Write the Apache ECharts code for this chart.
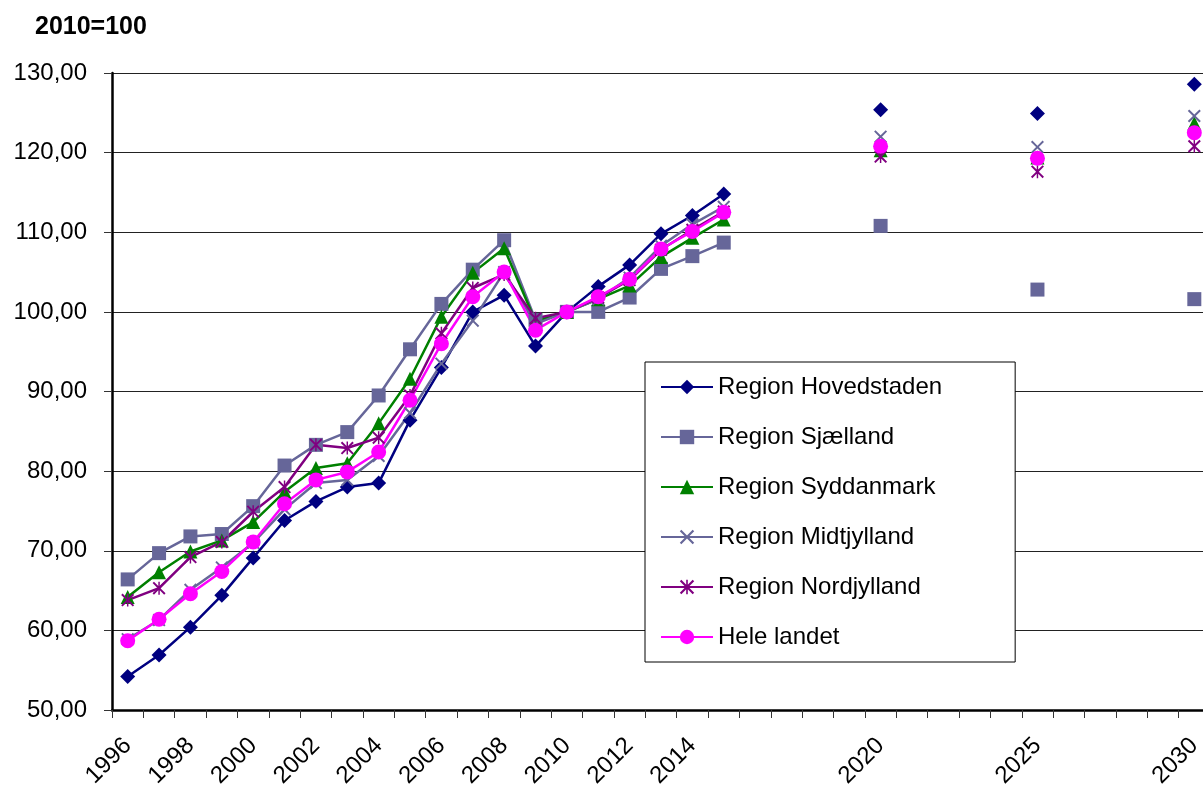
<!DOCTYPE html>
<html>
<head>
<meta charset="utf-8">
<script src="https://cdn.jsdelivr.net/npm/echarts@6/dist/echarts.min.js"></script>
<style>html,body{margin:0;padding:0;background:#fff}#c{width:1203px;height:785px}</style>
</head>
<body>
<div id="c"></div>
<script>
const years = ['1996','1997','1998','1999','2000','2001','2002','2003','2004','2005','2006','2007','2008','2009','2010','2011','2012','2013','2014','2015','2016','2017','2018','2019','2020','2021','2022','2023','2024','2025','2026','2027','2028','2029','2030'];
const labelYears = ['1996','1998','2000','2002','2004','2006','2008','2010','2012','2014','2020','2025','2030'];
const yTicks = { min: 50, max: 130, step: 10 };

const hovedstaden = [54.2,56.9,60.4,64.4,69.1,73.8,76.2,78.0,78.5,86.4,93.0,100.0,102.1,95.7,100.0,103.2,105.9,109.8,112.1,114.8, null,null,null,null,125.4, null,null,null,null,124.9, null,null,null,null,128.6];
const sjaelland   = [66.4,69.7,71.8,72.1,75.6,80.7,83.3,84.9,89.5,95.3,101.0,105.3,109.0,99.0,100.0,100.0,101.8,105.4,107.0,108.7, null,null,null,null,110.8, null,null,null,null,102.8, null,null,null,null,101.6];
const syddanmark  = [64.2,67.3,69.9,71.3,73.6,77.4,80.4,81.0,86.0,91.6,99.4,104.9,108.0,98.8,100.0,101.6,103.3,106.9,109.3,111.6, null,null,null,null,120.3, null,null,null,null,119.4, null,null,null,null,123.7];
const midtjylland = [58.9,61.3,65.1,67.9,71.0,75.2,78.5,78.9,81.9,87.3,93.5,98.9,105.0,98.5,100.0,101.6,104.3,108.3,111.0,113.2, null,null,null,null,122.0, null,null,null,null,120.7, null,null,null,null,124.6];
const nordjylland = [63.8,65.3,69.2,71.1,74.9,78.0,83.3,82.9,84.2,89.5,97.3,103.0,104.7,99.2,100.0,101.8,104.0,107.8,110.3,112.6, null,null,null,null,119.5, null,null,null,null,117.6, null,null,null,null,120.8];
const heleLandet  = [58.7,61.4,64.6,67.4,71.1,75.9,78.9,79.9,82.4,88.9,96.0,101.9,105.0,97.7,100.0,101.9,104.1,107.9,110.1,112.5, null,null,null,null,120.8, null,null,null,null,119.3, null,null,null,null,122.5];

const FONT = "'Liberation Sans', Arial, sans-serif";
const X_PATH = 'path://M0 1.7L1.7 0L8 6.3L14.3 0L16 1.7L9.7 8L16 14.3L14.3 16L8 9.7L1.7 16L0 14.3L6.3 8Z';
const STAR_PATH = 'path://M0 1.7L1.7 0L8 6.3L14.3 0L16 1.7L9.7 8L16 14.3L14.3 16L8 9.7L1.7 16L0 14.3L6.3 8Z M7.1 0L8.9 0L8.9 16L7.1 16Z';

function mk(name, data, color, symbol, size) {
  return {
    name, type: 'line', data, symbol, symbolSize: size,
    showSymbol: true, showAllSymbol: true, connectNulls: false,
    itemStyle: { color },
    lineStyle: { color, width: 2.5 },
    emphasis: { disabled: true },
    animation: false
  };
}

const chart = echarts.init(document.getElementById('c'));
chart.setOption({
  animation: false,
  backgroundColor: '#fff',
  title: {
    text: '2010=100', left: 30, top: 10,
    textStyle: { fontSize: 25, fontWeight: 'bold', fontFamily: FONT, color: '#000' }
  },
  grid: { left: 112, top: 73, right: -7, bottom: 75, outerBoundsMode: 'none', containLabel: false },
  legend: {
    orient: 'vertical', left: 645, top: 362,
    padding: [12, 73, 12, 15],
    itemGap: 24, itemWidth: 52, itemHeight: 18,
    borderColor: '#000', borderWidth: 1, backgroundColor: '#fff',
    textStyle: { fontSize: 24, fontFamily: FONT, color: '#000', lineHeight: 26 },
    data: ['Region Hovedstaden','Region Sjælland','Region Syddanmark','Region Midtjylland','Region Nordjylland','Hele landet']
  },
  xAxis: {
    type: 'category', data: years, boundaryGap: true,
    axisLine: { lineStyle: { color: '#000', width: 2.5 } },
    axisTick: { show: true, interval: 0, length: 8, lineStyle: { color: '#333', width: 1 } },
    axisLabel: {
      interval: (i, v) => labelYears.includes(v),
      rotate: 45, margin: 32,
      fontSize: 24, fontFamily: FONT, color: '#000'
    },
    splitLine: { show: false }
  },
  yAxis: {
    type: 'value', min: yTicks.min, max: yTicks.max, interval: yTicks.step,
    axisLine: { show: true, lineStyle: { color: '#000', width: 2.5 } },
    axisTick: { show: true, length: 8, lineStyle: { color: '#333', width: 1 } },
    axisLabel: {
      margin: 25, fontSize: 24, fontFamily: FONT, color: '#000',
      formatter: v => v.toFixed(2).replace('.', ',')
    },
    splitLine: { show: true, lineStyle: { color: '#222', width: 1 } }
  },
  series: [
    mk('Region Hovedstaden', hovedstaden, '#000080', 'diamond', 15),
    mk('Region Sjælland', sjaelland, '#666699', 'rect', 14),
    mk('Region Syddanmark', syddanmark, '#008000', 'triangle', 14),
    mk('Region Midtjylland', midtjylland, '#666699', X_PATH, 13),
    mk('Region Nordjylland', nordjylland, '#800080', STAR_PATH, 13),
    mk('Hele landet', heleLandet, '#FF00FF', 'circle', 15)
  ]
});
</script>
</body>
</html>
